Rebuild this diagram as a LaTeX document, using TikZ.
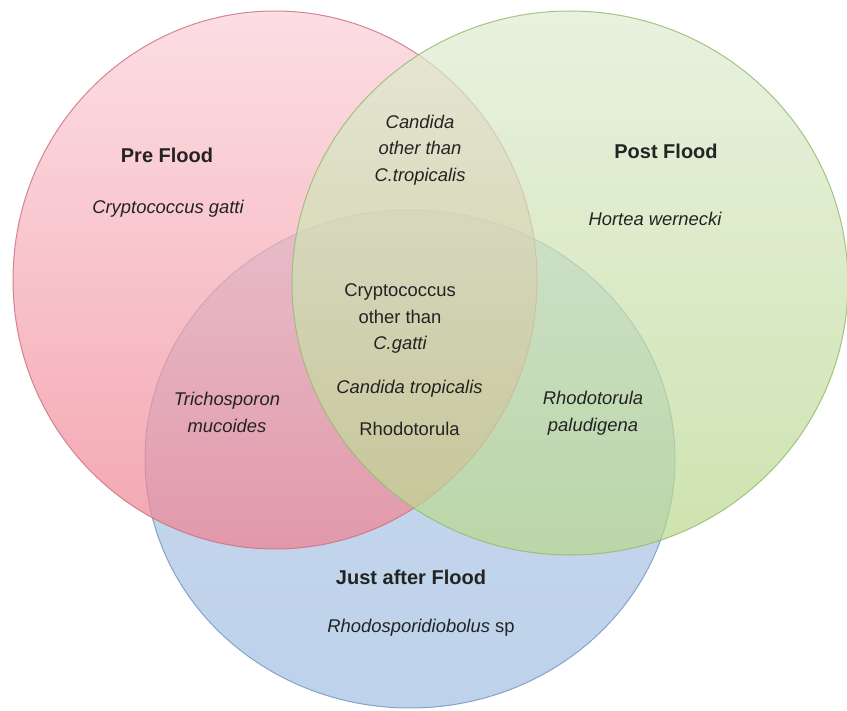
\documentclass[tikz,border=0pt]{standalone}
\usepackage{fontspec}
\setmainfont{Liberation Sans}
\usetikzlibrary{shapes.geometric}
\definecolor{txt}{RGB}{35,35,35}
\definecolor{redT}{RGB}{251,208,216}
\definecolor{redB}{RGB}{239,128,143}
\definecolor{redL}{RGB}{205,115,130}
\definecolor{grnT}{RGB}{222,236,210}
\definecolor{grnB}{RGB}{185,215,140}
\definecolor{grnL}{RGB}{150,188,110}
\definecolor{bluT}{RGB}{174,201,231}
\definecolor{bluB}{RGB}{162,191,226}
\definecolor{bluL}{RGB}{118,152,198}
\begin{document}
\begin{tikzpicture}[x=1pt,y=-1pt,
  setshape/.style={ellipse, inner sep=0pt, fill opacity=0.7, draw opacity=0.85, line width=1pt},
  lbl/.style={text=txt, font=\fontsize{18.4}{26.5}\selectfont, align=center, inner sep=0pt},
  ttl/.style={text=txt, font=\fontsize{20}{24}\selectfont\bfseries, inner sep=0pt}]
\useasboundingbox (0,0) rectangle (847,711);
\node[setshape, minimum width=530pt, minimum height=498pt, top color=bluT, bottom color=bluB, draw=bluL] (just) at (410,459) {};
\node[setshape, minimum width=524pt, minimum height=538pt, top color=redT, bottom color=redB, draw=redL] (pre) at (275,280) {};
\node[setshape, minimum width=556pt, minimum height=544pt, top color=grnT, bottom color=grnB, draw=grnL] (post) at (570,283) {};

\node[ttl] (preT) at (167,155) {Pre Flood};
\node[lbl] (preS) at (168,209) {\itshape Cryptococcus gatti};
\node[ttl] (postT) at (666,151) {Post Flood};
\node[lbl] (postS) at (655,219) {\itshape Hortea wernecki};
\node[ttl] (justT) at (411,577) {Just after Flood};
\node[lbl] (justS) at (421,628) {\itshape Rhodosporidiobolus\upshape\ sp};

\node[lbl] (pg) at (420,150) {\itshape Candida\\ \itshape other than\\ \itshape C.tropicalis};
\node[lbl] (all1) at (400,318.5) {Cryptococcus\\ other than\\ \itshape C.gatti};
\node[lbl] (all2) at (409.5,389) {\itshape Candida tropicalis};
\node[lbl] (all3) at (409.5,428.6) {Rhodotorula};
\node[lbl] (pj) at (227,412.5) {\itshape Trichosporon\\ \itshape mucoides};
\node[lbl] (gj) at (593,413) {\itshape Rhodotorula\\ \itshape paludigena};
\end{tikzpicture}
\end{document}
